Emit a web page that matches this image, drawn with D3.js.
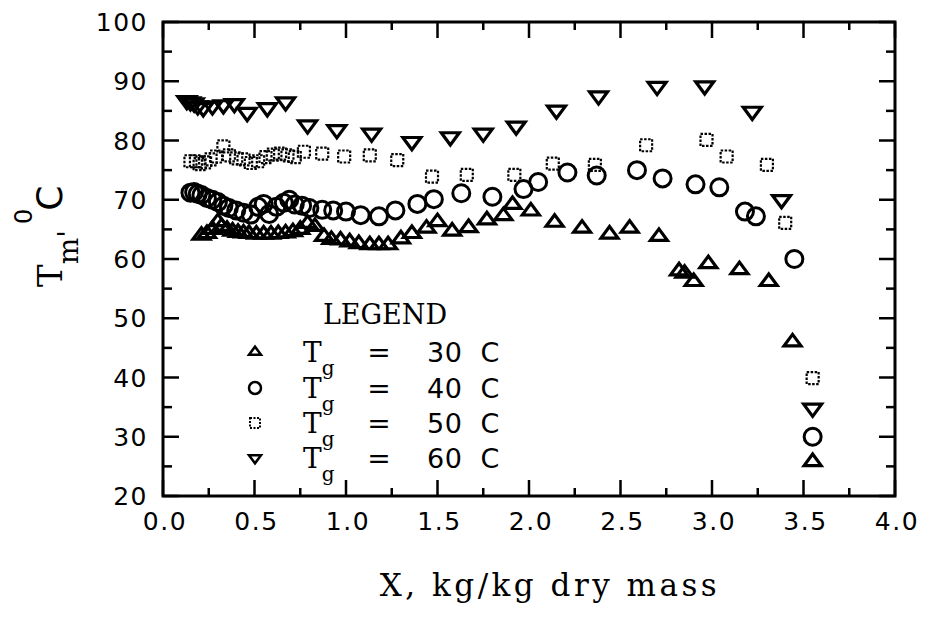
<!DOCTYPE html>
<html><head><meta charset="utf-8">
<script src="https://cdn.jsdelivr.net/npm/d3@7"></script>
<style>body{margin:0;background:#fff}svg{display:block}</style>
</head><body>
<svg id="c" width="926" height="617"></svg>
<script>
// ---- data ----
const xTickLabels = ["0.0","0.5","1.0","1.5","2.0","2.5","3.0","3.5","4.0"];
const yTickLabels = ["20","30","40","50","60","70","80","90","100"];
const seriesNames = ["30 C","40 C","50 C","60 C"];

const x30 = [0.21,0.24,0.27,0.30,0.32,0.35,0.38,0.41,0.44,0.47,0.51,0.55,0.59,0.63,0.67,0.71,0.75,0.79,0.83,0.88,0.92,0.97,1.02,1.07,1.13,1.18,1.23,1.30,1.36,1.44,1.50,1.58,1.67,1.77,1.86,1.91,2.01,2.14,2.29,2.44,2.55,2.71,2.82,2.85,2.90,2.98,3.15,3.31,3.44,3.55];
const y30 = [64.0,64.3,65.0,66.3,65.5,65.0,64.7,64.5,64.4,64.3,64.2,64.2,64.2,64.3,64.4,64.6,65.0,66.0,65.5,63.8,63.3,63.2,62.9,62.6,62.4,62.4,62.4,63.4,64.3,65.2,66.3,64.7,65.3,66.6,67.3,69.2,68.1,66.2,65.2,64.2,65.2,63.8,58.0,57.6,56.2,59.2,58.2,56.2,46.0,25.8];

const x40 = [0.15,0.17,0.19,0.21,0.24,0.27,0.30,0.33,0.36,0.40,0.44,0.48,0.52,0.55,0.58,0.62,0.66,0.69,0.72,0.76,0.80,0.87,0.93,1.00,1.08,1.18,1.27,1.39,1.48,1.63,1.80,1.97,2.05,2.21,2.37,2.59,2.73,2.91,3.04,3.18,3.24,3.45,3.55];
const y40 = [71.2,71.3,71.0,70.8,70.3,70.0,69.6,69.0,68.6,68.2,67.8,67.5,68.8,69.3,67.6,68.8,69.5,70.0,69.2,69.0,68.6,68.3,68.2,68.0,67.4,67.2,68.2,69.3,70.1,71.1,70.5,71.8,73.0,74.6,74.1,75.0,73.6,72.6,72.1,68.0,67.2,60.0,30.0];

const x50 = [0.15,0.18,0.20,0.23,0.26,0.29,0.33,0.36,0.40,0.44,0.48,0.52,0.56,0.60,0.64,0.68,0.72,0.77,0.87,0.99,1.13,1.28,1.47,1.66,1.92,2.13,2.36,2.64,2.97,3.08,3.30,3.40,3.55];
const y50 = [76.5,76.5,76.0,76.3,76.8,77.3,79.0,77.5,77.0,76.8,76.2,76.5,77.2,77.6,77.8,77.5,77.2,78.1,77.8,77.3,77.5,76.7,73.9,74.2,74.2,76.1,75.9,79.2,80.1,77.3,75.9,66.1,39.9];

const x60 = [0.13,0.15,0.17,0.19,0.22,0.27,0.33,0.39,0.46,0.57,0.67,0.79,0.95,1.14,1.36,1.57,1.75,1.93,2.15,2.38,2.70,2.96,3.22,3.38,3.55];
const y60 = [86.7,86.5,86.3,85.8,85.5,85.8,86.0,86.2,84.7,85.5,86.5,82.6,81.8,81.2,79.8,80.6,81.2,82.4,85.1,87.5,89.1,89.2,84.9,70.0,34.8];

// ---- layout ----
const L = 163, R = 895, T = 22, B = 496;
const svg = d3.select("#c");
const x = d3.scaleLinear().domain([0,4]).range([L,R]);
const y = d3.scaleLinear().domain([20,100]).range([B,T]);
const SANS = "'DejaVu Sans', sans-serif";
const SERIF = "'DejaVu Serif', serif";

// frame
svg.append("rect").attr("x",L).attr("y",T).attr("width",R-L).attr("height",B-T)
  .attr("fill","none").attr("stroke","#000").attr("stroke-width",3);

const xMajor = d3.range(0,4.01,0.5), xMinor = d3.range(0.25,4,0.5);
const yMajor = d3.range(20,100.1,10), yMinor = d3.range(25,100,10);
const tk = svg.append("g").attr("stroke","#000").attr("stroke-width",2.5);
xMajor.forEach(v=>{ tk.append("line").attr("x1",x(v)).attr("x2",x(v)).attr("y1",B).attr("y2",B-16);
                    tk.append("line").attr("x1",x(v)).attr("x2",x(v)).attr("y1",T).attr("y2",T+16);});
xMinor.forEach(v=>{ tk.append("line").attr("x1",x(v)).attr("x2",x(v)).attr("y1",B).attr("y2",B-8);
                    tk.append("line").attr("x1",x(v)).attr("x2",x(v)).attr("y1",T).attr("y2",T+8);});
yMajor.forEach(v=>{ tk.append("line").attr("y1",y(v)).attr("y2",y(v)).attr("x1",L).attr("x2",L+16);
                    tk.append("line").attr("y1",y(v)).attr("y2",y(v)).attr("x1",R).attr("x2",R-16);});
yMinor.forEach(v=>{ tk.append("line").attr("y1",y(v)).attr("y2",y(v)).attr("x1",L).attr("x2",L+9);
                    tk.append("line").attr("y1",y(v)).attr("y2",y(v)).attr("x1",R).attr("x2",R-9);});

// tick labels
svg.append("g").selectAll("text").data(xTickLabels).join("text")
  .attr("x",(d,i)=>x(xMajor[i])+2).attr("y",530).attr("text-anchor","middle")
  .attr("font-family",SANS).attr("font-size",25).attr("letter-spacing",1.5).text(d=>d);
svg.append("g").selectAll("text").data(yTickLabels).join("text")
  .attr("x",148).attr("y",(d,i)=>y(yMajor[i])).attr("dy","0.36em").attr("text-anchor","end")
  .attr("font-family",SANS).attr("font-size",25).attr("letter-spacing",1.5).text(d=>d);

// axis titles
svg.append("text").attr("x",550).attr("y",596).attr("text-anchor","middle")
  .attr("font-family",SERIF).attr("font-size",31).attr("letter-spacing",3.5)
  .text("X, kg/kg dry mass");
const yt = svg.append("text").attr("transform","translate(62,287) rotate(-90)")
  .attr("font-family",SERIF).attr("font-size",34);
yt.append("tspan").text("T");
yt.append("tspan").attr("dy",16).attr("font-size",28).text("m'");
yt.append("tspan").attr("dy",-46).attr("dx",6).attr("font-family",SANS).attr("font-size",24).text("0");
yt.append("tspan").attr("dy",30).attr("dx",-2).attr("font-family",SANS).attr("font-size",36).text("C");

// markers
function triPath(s, dir){ // s: half width
  const h = s*0.85;
  return dir>0 ? `M${-s},${h*0.55}L${s},${h*0.55}L0,${-h*1.05}Z` : `M${-s},${-h*0.55}L${s},${-h*0.55}L0,${h*1.05}Z`;
}
const g = svg.append("g").attr("fill","none").attr("stroke","#000");
g.append("g").selectAll("path").data(x30.map((v,i)=>[v,y30[i]])).join("path")
  .attr("d",triPath(8.5,1)).attr("transform",d=>`translate(${x(d[0])},${y(d[1])})`).attr("stroke-width",3.2);
g.append("g").selectAll("circle").data(x40.map((v,i)=>[v,y40[i]])).join("circle")
  .attr("cx",d=>x(d[0])).attr("cy",d=>y(d[1])).attr("r",8.5).attr("stroke-width",3);
g.append("g").selectAll("rect").data(x50.map((v,i)=>[v,y50[i]])).join("rect")
  .attr("x",d=>x(d[0])-6).attr("y",d=>y(d[1])-6).attr("width",12).attr("height",12)
  .attr("stroke-width",2.2).attr("stroke-dasharray","2.5,1.5");
g.append("g").selectAll("path").data(x60.map((v,i)=>[v,y60[i]])).join("path")
  .attr("d",triPath(9,-1)).attr("transform",d=>`translate(${x(d[0])},${y(d[1])})`).attr("stroke-width",3.2);

// legend
svg.append("text").attr("x",385).attr("y",324).attr("text-anchor","middle")
  .attr("font-family",SERIF).attr("font-size",27).text("LEGEND");
const rowY = [362,398,433,468];
const lg = svg.append("g");
seriesNames.forEach((nm,i)=>{
  const cy = rowY[i]-10;
  if(i===0) lg.append("path").attr("d",triPath(6,1)).attr("transform",`translate(255,${cy})`).attr("fill","none").attr("stroke","#000").attr("stroke-width",2.5);
  if(i===1) lg.append("circle").attr("cx",255).attr("cy",cy).attr("r",6).attr("fill","none").attr("stroke","#000").attr("stroke-width",2.5);
  if(i===2) lg.append("rect").attr("x",250).attr("y",cy-5).attr("width",10).attr("height",10).attr("fill","none").attr("stroke","#000").attr("stroke-width",2).attr("stroke-dasharray","2,1.5");
  if(i===3) lg.append("path").attr("d",triPath(6,-1)).attr("transform",`translate(255,${cy})`).attr("fill","none").attr("stroke","#000").attr("stroke-width",2.5);
  const t = lg.append("text").attr("x",303).attr("y",rowY[i]).attr("font-family",SERIF).attr("font-size",28);
  t.append("tspan").text("T");
  t.append("tspan").attr("dy",13).attr("font-size",20).text("g");
  lg.append("text").attr("x",379).attr("y",rowY[i]).attr("text-anchor","middle").attr("font-family",SANS).attr("font-size",28).text("=");
  lg.append("text").attr("x",427).attr("y",rowY[i]).attr("font-family",SANS).attr("font-size",27).attr("letter-spacing",0.5).attr("xml:space","preserve").text(nm.replace(" ","  "));
});
</script>
</body></html>
